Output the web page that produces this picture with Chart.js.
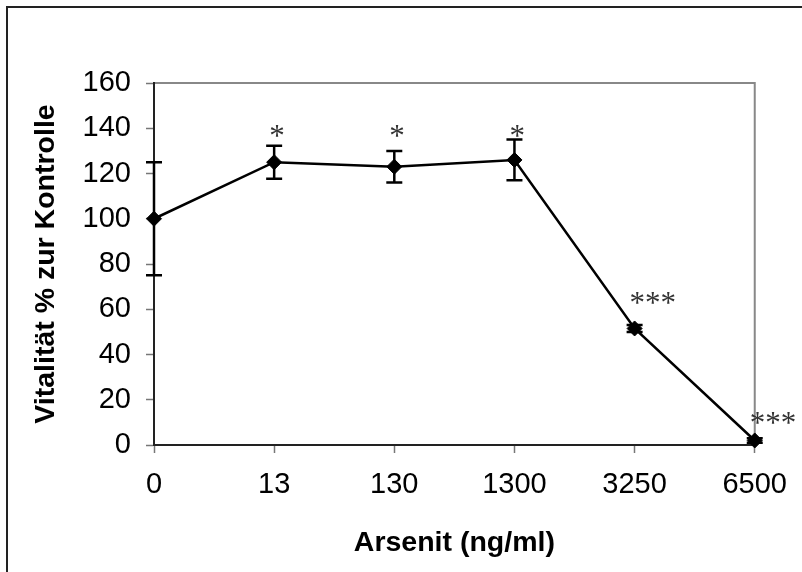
<!DOCTYPE html>
<html>
<head>
<meta charset="utf-8">
<script src="https://cdn.jsdelivr.net/npm/chart.js@4/dist/chart.umd.min.js"></script>
<style>
  html, body { margin: 0; padding: 0; background: #fff; }
  canvas { display: block; }
</style>
</head>
<body>
<canvas id="chart" width="802" height="572"></canvas>
<script>
// doses (x categories)
const doses = ["0", "13", "130", "1300", "3250", "6500"];
// viability in % of control, with +/- error
const viability = [100, 125, 123, 126, 51.5, 2];
const errors = [25, 7.3, 7, 9, 1.5, 1];
// significance markers and the height (in % units) they sit at
const stars = ["", "*", "*", "*", "***", "***"];
const starLevel = [null, 138, 138, 138, 64, 11];

const yTicksMax = 160;
const yTicksStep = 20;

// white page, outer frame, grey plot box
const framePlugin = {
  id: "frame",
  beforeDraw(chart) {
    const ctx = chart.ctx;
    const a = chart.chartArea;
    ctx.save();
    ctx.fillStyle = "#fff";
    ctx.fillRect(0, 0, chart.width, chart.height);
    ctx.strokeStyle = "#222";
    ctx.lineWidth = 2;
    ctx.beginPath();
    ctx.moveTo(7, chart.height);
    ctx.lineTo(7, 7);
    ctx.lineTo(chart.width, 7);
    ctx.stroke();
    ctx.strokeStyle = "#888";
    ctx.lineWidth = 2;
    ctx.beginPath();
    ctx.moveTo(a.left, a.top);
    ctx.lineTo(a.right, a.top);
    ctx.lineTo(a.right, a.bottom);
    ctx.stroke();
    ctx.restore();
  }
};

// error bars and asterisks
const errorPlugin = {
  id: "errorBars",
  afterDatasetsDraw(chart) {
    const ctx = chart.ctx;
    const x = chart.scales.x;
    const y = chart.scales.y;
    ctx.save();
    ctx.strokeStyle = "#000";
    ctx.lineWidth = 2.5;
    viability.forEach((v, i) => {
      const px = x.getPixelForValue(i);
      const top = y.getPixelForValue(v + errors[i]);
      const bot = y.getPixelForValue(v - errors[i]);
      ctx.beginPath();
      ctx.moveTo(px, top);
      ctx.lineTo(px, bot);
      ctx.moveTo(px - 8, top);
      ctx.lineTo(px + 8, top);
      ctx.moveTo(px - 8, bot);
      ctx.lineTo(px + 8, bot);
      ctx.stroke();
    });
    ctx.fillStyle = "#333";
    ctx.font = "31px 'Liberation Serif'";
    ctx.textAlign = "left";
    ctx.textBaseline = "middle";
    stars.forEach((s, i) => {
      if (!s) return;
      const px = x.getPixelForValue(i);
      const py = y.getPixelForValue(starLevel[i]);
      ctx.fillText(s, px - 5, py + 5);
    });
    ctx.restore();
  }
};

const labelFont = { family: "'Liberation Sans', Arial, sans-serif", size: 29 };
const titleFont = { family: "'Liberation Sans', Arial, sans-serif", size: 28.5, weight: "bold" };

new Chart(document.getElementById("chart"), {
  type: "line",
  data: {
    labels: doses,
    datasets: [{
      data: viability,
      borderColor: "#000",
      borderWidth: 2.5,
      backgroundColor: "#000",
      pointStyle: "rectRot",
      pointRadius: 7.5,
      pointBorderWidth: 1,
      tension: 0,
      clip: false
    }]
  },
  options: {
    responsive: false,
    animation: false,
    devicePixelRatio: 1,
    layout: { padding: { top: 83, right: 47, bottom: 0, left: 0 } },
    plugins: {
      legend: { display: false },
      tooltip: { enabled: false }
    },
    scales: {
      x: {
        offset: false,
        afterFit(scale) { scale.height = 127; },
        grid: {
          drawOnChartArea: false,
          drawTicks: true,
          tickLength: 8,
          tickColor: "#777",
          tickWidth: 1.5
        },
        border: { color: "#222", width: 2 },
        ticks: { color: "#000", font: labelFont, padding: 15, maxRotation: 0 },
        title: {
          display: true,
          text: "Arsenit (ng/ml)",
          color: "#000",
          font: titleFont,
          padding: { top: 0, bottom: 12 }
        }
      },
      y: {
        min: 0,
        max: yTicksMax,
        afterFit(scale) { scale.width = 154; },
        grid: {
          drawOnChartArea: false,
          drawTicks: true,
          tickLength: 8,
          tickColor: "#777",
          tickWidth: 1.5
        },
        border: { color: "#222", width: 2 },
        ticks: { stepSize: yTicksStep, color: "#000", font: labelFont, padding: 15 },
        title: {
          display: true,
          text: "Vitalität % zur Kontrolle",
          color: "#000",
          font: titleFont,
          padding: { top: 29, bottom: 0 }
        }
      }
    }
  },
  plugins: [framePlugin, errorPlugin]
});
</script>
</body>
</html>
